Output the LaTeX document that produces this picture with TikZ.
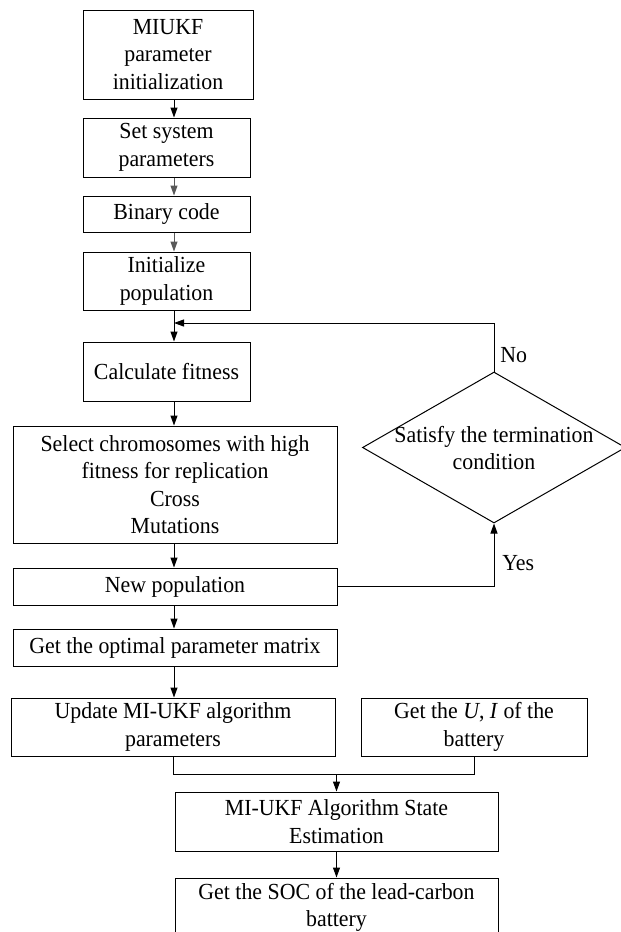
\documentclass[tikz,border=0pt]{standalone}
\usepackage{fontspec}
\setmainfont{Liberation Serif}[FakeStretch=0.95]
\usetikzlibrary{arrows.meta,shapes.geometric}

\tikzset{
	box/.style={draw=black, line width=0.5pt, align=center, inner sep=0pt, font=\fontsize{11.5}{13.75}\selectfont},
	lbl/.style={inner sep=0pt, font=\fontsize{11.5}{13.75}\selectfont},
	arr/.style={-{Triangle[length=5pt,width=3.5pt]}, line width=0.5pt},
}

\begin{document}
\begin{tikzpicture}[x=0.5pt,y=-0.5pt]
		%%%%% START %%%%%
		\useasboundingbox (0,0) rectangle (621,932);
		\coordinate (col) at (174,0);
		
		\node[box, minimum width=85pt, minimum height=44.5pt] (miukf) at (168,54.5) {MIUKF\\parameter\\initialization};
		\node[box, minimum width=83.5pt, minimum height=29.5pt] (setp) at (166.5,147.5) {Set system\\parameters};
		\node[box, minimum width=83.5pt, minimum height=18pt] (binc) at (166.5,214) {Binary code};
		\node[box, minimum width=83.5pt, minimum height=29pt] (initp) at (166.5,281) {Initialize\\population};
		\node[box, minimum width=83.5pt, minimum height=29.5pt] (calc) at (166.5,371.5) {Calculate fitness};
		\node[box, minimum width=162pt, minimum height=58.5pt] (sel) at (175,484.5) {Select chromosomes with high\\fitness for replication\\Cross\\Mutations};
		\node[box, minimum width=162pt, minimum height=18.5pt] (newp) at (175,586.5) {New population};
		\node[box, minimum width=162pt, minimum height=18.5pt] (optm) at (175,647.5) {Get the optimal parameter matrix};
		\node[box, minimum width=162pt, minimum height=29pt] (upd) at (173,727) {Update MI-UKF algorithm\\parameters};
		\node[box, minimum width=113pt, minimum height=29pt] (getui) at (474,727) {Get the \textit{U}, \textit{I} of the\\battery};
		\node[box, minimum width=161.5pt, minimum height=29.5pt] (state) at (336.5,821.5) {MI-UKF Algorithm State\\Estimation};
		\node[box, minimum width=161.5pt, minimum height=29.5pt] (soc) at (336.5,907.5) {Get the SOC of the lead-carbon\\battery};
		
		% decision
		\node[draw=black, line width=0.5pt, diamond, inner sep=0pt, minimum width=131.5pt, minimum height=75.5pt] (dec) at (494,447.5) {};
		\node[lbl, align=center] (dectext) at (494,448) {Satisfy the termination\\condition};
		
		\draw[arr] (miukf.south -| col) -- (setp.north -| col);
		\draw[arr, color=black!65] (setp.south -| col) -- (binc.north -| col);
		\draw[arr, color=black!65] (binc.south -| col) -- (initp.north -| col);
		\draw[arr] (initp.south -| col) -- (calc.north -| col);
		\draw[arr] (calc.south -| col) -- (sel.north -| col);
		\draw[arr] (sel.south -| col) -- (newp.north -| col);
		\draw[arr] (newp.south -| col) -- (optm.north -| col);
		\draw[arr] (optm.south -| col) -- (upd.north -| col);
		
		% loop back
		\coordinate (back) at (174,323);
		\draw[arr] (dec.north) |- (back);
		\draw[arr] (newp.east) -| (dec.south);
		\node[lbl, anchor=west] (nolbl) at (500,355) {No};
		\node[lbl, anchor=west] (yeslbl) at (502,563) {Yes};
		
		% merge
		\coordinate (merge) at (336.5,774);
		\draw[line width=0.5pt] (upd.south) |- (merge) -| (getui.south);
		\draw[arr] (merge) -- (state.north);
		\draw[arr] (state.south) -- (soc.north);
		
		%%%%% END %%%%%
\end{tikzpicture}
\end{document}
